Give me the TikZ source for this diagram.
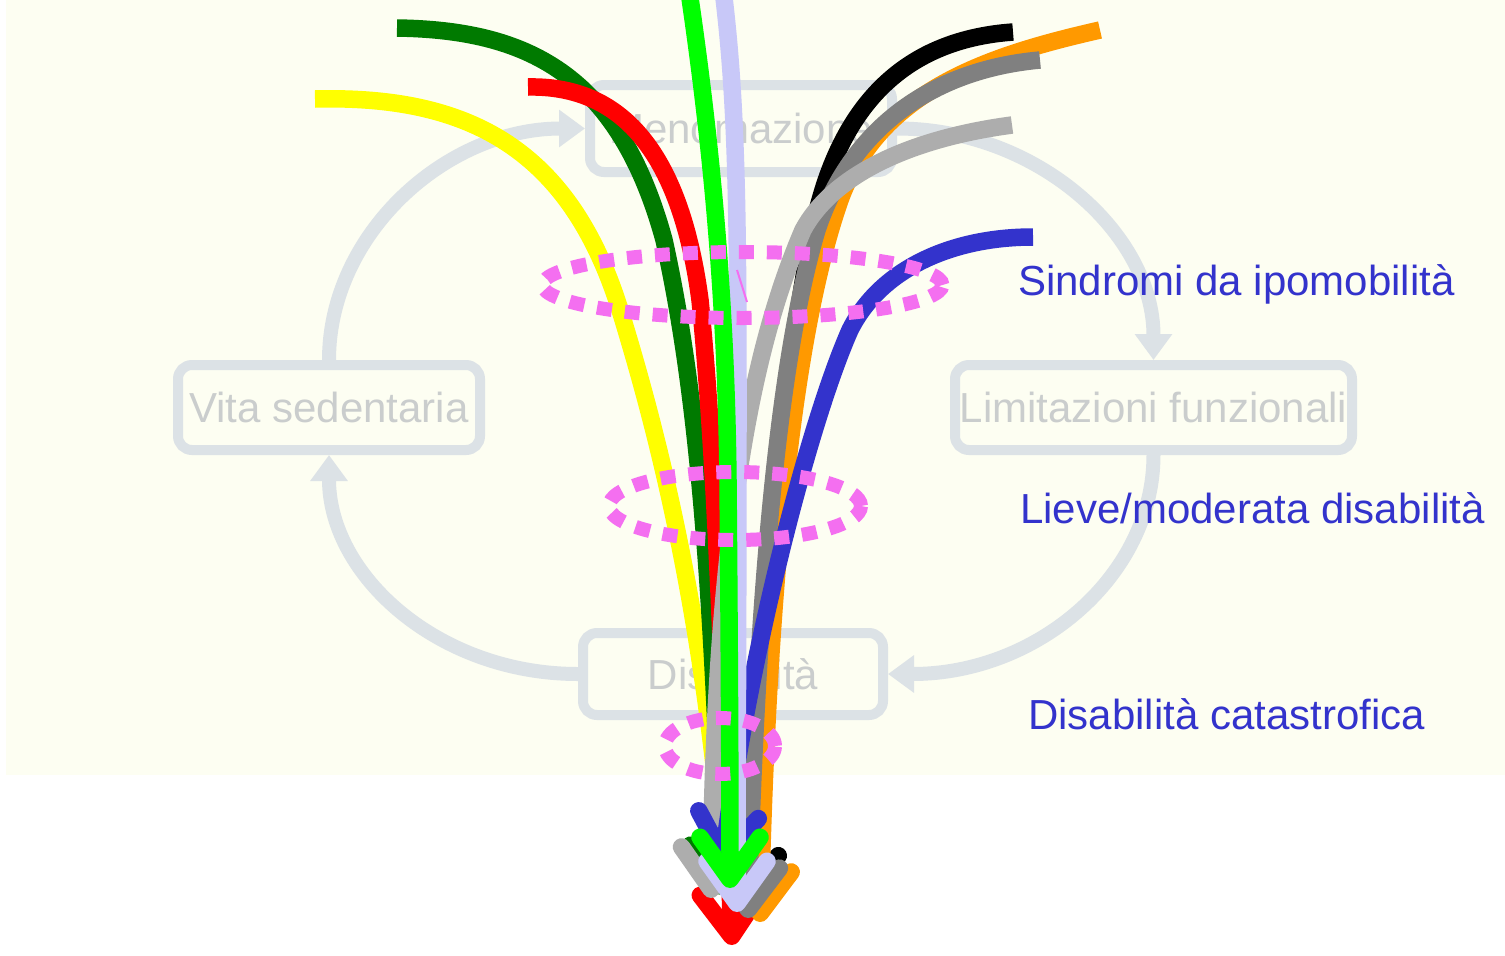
\documentclass[tikz,border=0pt]{standalone}
\usepackage{fontspec}
\setmainfont{Liberation Sans}
\usetikzlibrary{arrows.meta}
\definecolor{bgcream}{HTML}{FDFEF2}
\definecolor{faded}{HTML}{DCE2E6}
\definecolor{fadedtext}{HTML}{CACDCD}
\definecolor{pinkdot}{HTML}{F46FF0}
\definecolor{labelblue}{HTML}{3333CC}
\definecolor{cyellow}{HTML}{FFFF00}
\definecolor{cdgreen}{HTML}{007A00}
\definecolor{cred}{HTML}{FF0000}
\definecolor{cgreen}{HTML}{00FF00}
\definecolor{clav}{HTML}{C8C8F8}
\definecolor{cgray}{HTML}{808080}
\definecolor{clgray}{HTML}{ADADAD}
\definecolor{corange}{HTML}{FF9900}
\definecolor{cblue}{HTML}{3333CC}
\begin{document}
\begin{tikzpicture}[x=1pt,y=-1pt,
  fadedbox/.style={draw=faded,line width=10pt,rounded corners=14pt,fill=bgcream,
    text=fadedtext,font=\fontsize{42}{48}\selectfont,inner sep=0pt},
  cyclearrow/.style={draw=faded,line width=14pt,-{Triangle[length=26pt,width=36pt]}},
  flow/.style={line width=17.5pt,-{Straight Barb[length=42pt,width=60pt,round]}},
  ring/.style={draw=pinkdot,line width=14pt,dash pattern=on 15pt off 13pt},
  lbl/.style={text=labelblue,font=\fontsize{42}{48}\selectfont,anchor=base west,inner sep=0pt}]
\useasboundingbox (0,0) rectangle (1505,956);
\fill[white] (0,0) rectangle (1505,956);
\fill[bgcream] (6,0) rectangle (1505,775);
% faded cycle
\node[fadedbox,minimum width=302pt,minimum height=87pt] (meno) at (741,128.5) {Menomazione};
\node[fadedbox,minimum width=302pt,minimum height=85pt] (vita) at (329,407.5) {Vita sedentaria};
\node[fadedbox,minimum width=397pt,minimum height=85pt] (limit) at (1153.5,407.5) {Limitazioni funzionali};
\node[fadedbox,minimum width=300pt,minimum height=82pt] (dis) at (733,674) {Disabilità};
\draw[cyclearrow] (vita.north) .. controls +(0,-126) and +(-139,0) .. (meno.west);
\draw[cyclearrow] (meno.east) .. controls +(140,0) and +(0,-126) .. (limit.north);
\draw[cyclearrow] (limit.south) .. controls +(0,120) and +(150,0) .. (dis.east);
\draw[cyclearrow] (dis.west) .. controls +(-140,0) and +(0,120) .. (vita.south);
% coloured flows
\coordinate (y0) at (315,99);   \coordinate (y1) at (726,895);
\coordinate (g0) at (397,28);   \coordinate (g1) at (722,895);
\coordinate (r0) at (528,87);   \coordinate (r1) at (732,945);
\coordinate (k0) at (1013,32);  \coordinate (k1) at (746,905);
\coordinate (o0) at (1100,30);  \coordinate (o1) at (760,922);
\coordinate (a0) at (1040,60);  \coordinate (a1) at (748,918);
\coordinate (l0) at (1012,125); \coordinate (l1) at (711,898);
\coordinate (b0) at (1033,237); \coordinate (b1) at (722,865);
\coordinate (v0) at (724,-2);   \coordinate (v1) at (737,912);
\coordinate (n0) at (690,-2);   \coordinate (n1) at (730,888);
\draw[flow,cyellow] (y0) .. controls (470,95) and (570,150) .. (620,310) .. controls (660,440) and (705,620) .. (y1);
\draw[flow,cdgreen] (g0) .. controls (525,30) and (618,72) .. (664,240) .. controls (695,380) and (712,560) .. (g1);
\draw[flow,cred] (r0) .. controls (620,85) and (680,150) .. (700,300) .. controls (715,450) and (722,650) .. (r1);
\draw[flow,black] (k0) .. controls (900,40) and (840,110) .. (815,220) .. controls (790,330) and (760,600) .. (k1);
\draw[flow,corange] (o0) .. controls (990,55) and (880,90) .. (840,200) .. controls (805,300) and (770,500) .. (o1);
\draw[flow,cgray] (a0) .. controls (930,70) and (850,130) .. (817,230) .. controls (790,320) and (760,500) .. (a1);
\draw[flow,clgray] (l0) .. controls (900,140) and (830,180) .. (803,230) .. controls (760,330) and (715,500) .. (l1);
\draw[flow,cblue] (b0) .. controls (950,237) and (880,270) .. (850,330) .. controls (810,420) and (750,650) .. (b1);
\draw[flow,clav] (v0) .. controls (736,100) and (738,200) .. (738,400) .. controls (738,600) and (737,800) .. (v1);
\draw[flow,cgreen] (n0) .. controls (712,150) and (726,300) .. (728,480) .. controls (729,600) and (730,750) .. (n1);
% pink dotted rings
\draw[ring] (742.5,285) ellipse [x radius=200pt, y radius=33pt];
\draw[ring] (735,506) ellipse [x radius=126pt, y radius=34pt];
\draw[ring] (720,746) ellipse [x radius=55pt, y radius=28pt];
\coordinate (s0) at (737,270); \coordinate (s1) at (747,302);
\draw[pinkdot,line width=2pt] (s0) -- (s1);
% labels
\node[lbl] (t1) at (1018,295) {Sindromi da ipomobilità};
\node[lbl] (t2) at (1020,523) {Lieve/moderata disabilità};
\node[lbl] (t3) at (1028,729) {Disabilità catastrofica};
\end{tikzpicture}
\end{document}
